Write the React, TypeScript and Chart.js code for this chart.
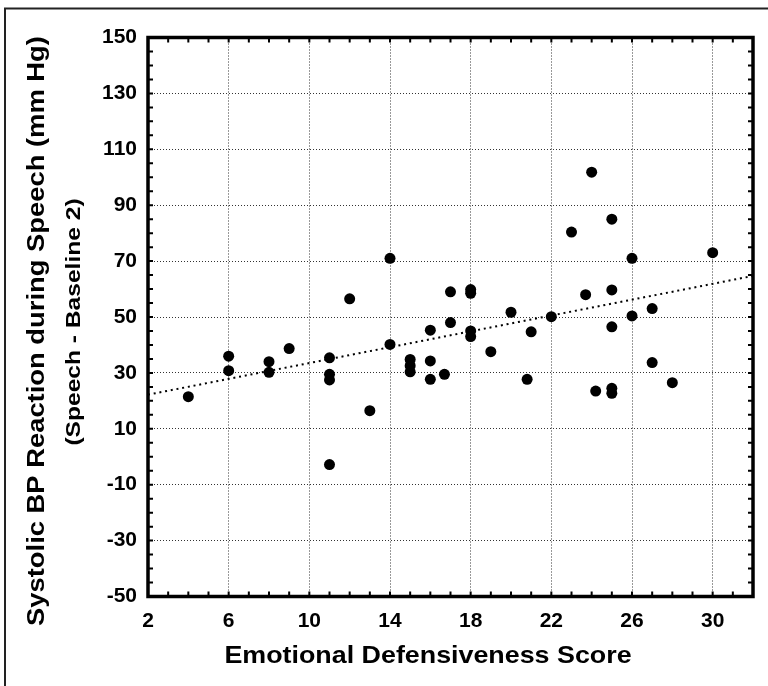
import React, { useEffect, useRef } from "react";
import { Chart, registerables } from "chart.js";

Chart.register(...registerables);

// ---- data ----
const scoreX = [
  4, 6, 6, 8, 8, 9, 11, 11, 11, 11,
  12, 13, 14, 14, 15, 15, 15, 16, 16, 16,
  16.7, 17, 17, 18, 18, 18, 18, 19, 20, 20.8,
  21, 22, 23, 23.7, 24, 24.2, 25, 25, 25, 25,
  25, 26, 26, 27, 27, 28, 30,
];
const bpY = [
  21.5, 36, 30.8, 34, 30.2, 38.7, 35.4, 29.5, 27.5, -2.8,
  56.5, 16.5, 71, 40.2, 34.8, 32.6, 30.4, 45.3, 34.3, 27.7,
  29.5, 59, 48, 59.8, 58.5, 45, 43, 37.6, 51.7, 27.7,
  44.7, 50.1, 80.4, 58, 101.8, 23.5, 85, 59.7, 46.5, 24.5,
  22.7, 71, 50.4, 53, 33.7, 26.5, 73,
];
const trendX = [2, 32];
const trendY = [22.2, 64.7];

const xTickValues = [2, 6, 10, 14, 18, 22, 26, 30];
const yTickValues = [-50, -30, -10, 10, 30, 50, 70, 90, 110, 130, 150];
const xMin = 2, xMax = 32, yMin = -50, yMax = 150;
const xMinorStep = 1, yMinorStep = 5;

const xTitle = "Emotional Defensiveness Score";
const yTitle = "Systolic BP Reaction during Speech (mm Hg)";
const ySubtitle = "(Speech - Baseline 2)";

const FONT = '"Liberation Sans", Arial, Helvetica, sans-serif';

const decorPlugin = {
  id: "decor",
  beforeDraw(chart: any) {
    const ctx = chart.ctx;
    ctx.save();
    ctx.fillStyle = "#fff";
    ctx.fillRect(0, 0, chart.width, chart.height);
    ctx.strokeStyle = "#222";
    ctx.lineWidth = 2;
    ctx.beginPath();
    ctx.moveTo(5, chart.height);
    ctx.lineTo(5, 8.5);
    ctx.lineTo(chart.width, 8.5);
    ctx.stroke();
    ctx.restore();
  },
  afterDraw(chart: any) {
    const ctx = chart.ctx;
    const a = chart.chartArea;
    const sx = chart.scales.x;
    const sy = chart.scales.y;
    ctx.save();
    // minor inward ticks
    ctx.strokeStyle = "#000";
    ctx.lineWidth = 2;
    ctx.beginPath();
    for (let v = xMin; v <= xMax + 1e-9; v += xMinorStep) {
      const px = sx.getPixelForValue(v);
      ctx.moveTo(px, a.bottom);
      ctx.lineTo(px, a.bottom - 5);
      ctx.moveTo(px, a.top);
      ctx.lineTo(px, a.top + 5);
    }
    for (let v = yMin; v <= yMax + 1e-9; v += yMinorStep) {
      const py = sy.getPixelForValue(v);
      ctx.moveTo(a.left, py);
      ctx.lineTo(a.left + 5, py);
      ctx.moveTo(a.right, py);
      ctx.lineTo(a.right - 5, py);
    }
    ctx.stroke();
    // thick box
    ctx.lineWidth = 3.5;
    ctx.strokeRect(a.left, a.top, a.right - a.left, a.bottom - a.top);

    // titles
    ctx.fillStyle = "#000";
    ctx.textAlign = "center";
    ctx.textBaseline = "alphabetic";

    ctx.save();
    ctx.font = `bold 24px ${FONT}`;
    ctx.translate(428, 663);
    ctx.scale(1.118, 1);
    ctx.fillText(xTitle, 0, 0);
    ctx.restore();

    ctx.save();
    ctx.font = `bold 24px ${FONT}`;
    ctx.translate(43.5, 331);
    ctx.rotate(-Math.PI / 2);
    ctx.scale(1.14, 1);
    ctx.fillText(yTitle, 0, 0);
    ctx.restore();

    ctx.save();
    ctx.font = `bold 21px ${FONT}`;
    ctx.translate(80, 322);
    ctx.rotate(-Math.PI / 2);
    ctx.scale(1.17, 1);
    ctx.fillText(ySubtitle, 0, 0);
    ctx.restore();

    ctx.restore();
  },
};

export default function App() {
  const ref = useRef<HTMLCanvasElement | null>(null);

  useEffect(() => {
    if (!ref.current) return;
    const points = scoreX.map((x, i) => ({ x, y: bpY[i] }));
    const trend = trendX.map((x, i) => ({ x, y: trendY[i] }));
    const chart = new Chart(ref.current, {
      type: "scatter",
      data: {
        datasets: [
          {
            type: "line",
            label: "Trend",
            data: trend,
            borderColor: "#000",
            borderWidth: 2,
            borderDash: [2, 3.8],
            pointRadius: 0,
            fill: false,
          } as any,
          {
            label: "Subjects",
            data: points,
            backgroundColor: "#000",
            borderColor: "#000",
            borderWidth: 0,
            pointRadius: 5.5,
          },
        ],
      },
      options: {
        animation: false,
        responsive: false,
        devicePixelRatio: 1,
        layout: { padding: { top: 37.5, right: 15, left: 0, bottom: 0 } },
        plugins: {
          legend: { display: false },
          tooltip: { enabled: false },
        },
        scales: {
          x: {
            type: "linear",
            min: xMin,
            max: xMax,
            afterBuildTicks: (s: any) => {
              s.ticks = xTickValues.map((v) => ({ value: v }));
            },
            afterFit: (s: any) => {
              s.height = 89.5;
            },
            grid: { color: "#333", lineWidth: 1, drawTicks: false },
            border: { display: false, dash: [1, 2] },
            ticks: {
              color: "#000",
              padding: 12,
              maxRotation: 0,
              autoSkip: false,
              font: { family: FONT, size: 21, weight: "bold" },
            },
          },
          y: {
            type: "linear",
            min: yMin,
            max: yMax,
            afterBuildTicks: (s: any) => {
              s.ticks = yTickValues.map((v) => ({ value: v }));
            },
            afterFit: (s: any) => {
              s.width = 148;
            },
            grid: { color: "#333", lineWidth: 1, drawTicks: false },
            border: { display: false, dash: [1, 2] },
            ticks: {
              color: "#000",
              padding: 11,
              autoSkip: false,
              font: { family: FONT, size: 21, weight: "bold" },
            },
          },
        },
      },
      plugins: [decorPlugin],
    });
    return () => chart.destroy();
  }, []);

  return (
    <div style={{ position: "absolute", left: 0, top: 0, width: 768, height: 686 }}>
      <canvas ref={ref} width={768} height={686} style={{ width: 768, height: 686 }} />
    </div>
  );
}
